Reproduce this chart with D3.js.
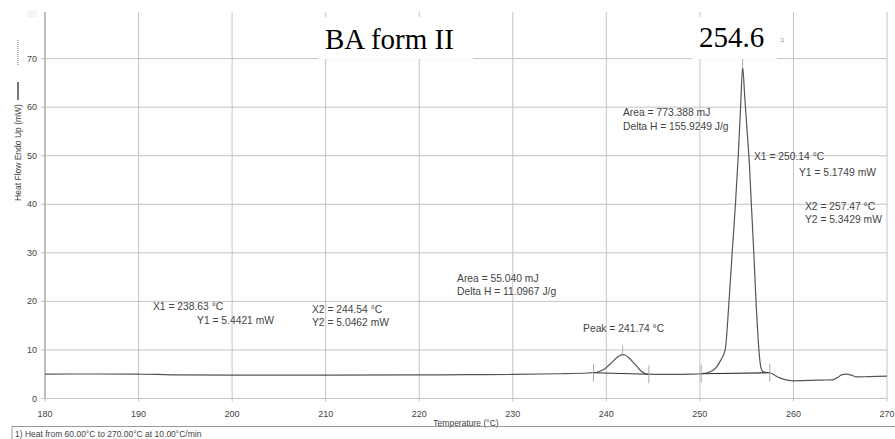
<!DOCTYPE html>
<html>
<head>
<meta charset="utf-8">
<script src="https://cdn.jsdelivr.net/npm/d3@7"></script>
<style>
  html, body { margin: 0; padding: 0; background: #fff; }
  svg { display: block; font-family: "Liberation Sans", Arial, sans-serif; }
  .serif { font-family: "Liberation Serif", "Times New Roman", serif; }
</style>
</head>
<body>
<svg id="chart" width="895" height="439"></svg>
<script>
// ---- data ----
const temperature = [180, 185, 190, 192, 194, 200, 210, 220, 225, 230, 235, 238, 238.63,
  239.3, 239.8, 240.3, 240.7, 241.1, 241.5, 241.74, 242.0, 242.4, 242.9, 243.4, 243.8, 244.2, 244.54,
  245.5, 247, 249, 250.14, 250.8, 251.4, 251.8, 252.2, 252.7, 253.1, 253.45, 253.8, 254.1, 254.35, 254.57,
  254.8, 255.05, 255.3, 255.5, 255.75, 256.0, 256.2, 256.35, 256.5, 256.7, 257.0, 257.47,
  258.0, 258.5, 259.0, 259.5, 260, 261, 262, 263, 264.2, 264.7, 265.2, 265.7, 266.2, 266.8, 268, 270];
const heatFlow = [5.0, 5.05, 5.0, 4.95, 4.85, 4.8, 4.8, 4.85, 4.9, 4.95, 5.1, 5.25, 5.3,
  5.6, 6.1, 6.9, 7.6, 8.4, 8.9, 9.05, 8.95, 8.4, 7.4, 6.3, 5.5, 5.1, 5.0,
  4.95, 4.95, 5.0, 5.1, 5.3, 5.8, 6.5, 7.8, 10.0, 19.6, 30.0, 40.0, 50.0, 60.0, 68.2,
  62.0, 55.0, 48.0, 40.0, 30.5, 20.0, 13.0, 9.0, 6.6, 5.6, 5.4, 5.3,
  4.8, 4.3, 3.95, 3.75, 3.65, 3.7, 3.75, 3.8, 3.85, 4.3, 4.9, 5.0, 4.8, 4.45, 4.5, 4.6];

const xTicks = [180, 190, 200, 210, 220, 230, 240, 250, 260, 270];
const yTicks = [0, 10, 20, 30, 40, 50, 60, 70];

// integration limits (temperature, heat flow)
const limitTemps  = [238.63, 244.54, 250.14, 257.47];
const limitValues = [5.3, 5.0, 5.1, 5.3];
const peakTemps   = [241.74, 254.57];
const peakValues  = [9.05, 68.2];

// annotation texts and anchors (temperature, heat flow)
const annoTexts = ["Area = 773.388 mJ", "Delta H = 155.9249 J/g", "X1 = 250.14 °C", "Y1 = 5.1749 mW",
  "X2 = 257.47 °C", "Y2 = 5.3429 mW", "Area = 55.040 mJ", "Delta H = 11.0967 J/g",
  "X1 = 238.63 °C", "Y1 = 5.4421 mW", "X2 = 244.54 °C", "Y2 = 5.0462 mW", "Peak = 241.74 °C"];
const annoT = [241.78, 241.78, 255.78, 260.59, 261.23, 261.23, 224.04, 224.04, 191.54, 196.25, 208.54, 208.54, 237.51];
const annoV = [58.21, 55.33, 49.15, 45.85, 38.85, 36.17, 24.01, 21.33, 18.24, 15.36, 17.51, 14.94, 13.70];

const titleText = "BA form II";
const peakLabel = "254.6";
const xTitle = "Temperature (°C)";
const yTitle = "Heat Flow Endo Up (mW)";
const footer = "1) Heat from 60.00°C to 270.00°C at 10.00°C/min";

// ---- layout ----
const svg = d3.select("#chart");
const x = d3.scaleLinear().domain([180, 270]).range([45, 887]);
const y = d3.scaleLinear().domain([0, 79.6]).range([398.5, 12]);
const gridColor = "#c4c4c4";
const textColor = "#444";

// gridlines
svg.append("g").selectAll("line").data(xTicks).join("line")
  .attr("x1", d => x(d)).attr("x2", d => x(d))
  .attr("y1", y.range()[1]).attr("y2", y(0) + 3)
  .attr("stroke", gridColor).attr("stroke-width", 1);
svg.append("g").selectAll("line").data(yTicks).join("line")
  .attr("x1", x(180) - 4).attr("x2", x(270))
  .attr("y1", d => y(d)).attr("y2", d => y(d))
  .attr("stroke", gridColor).attr("stroke-width", 1);
// axis line
svg.append("line").attr("x1", x(180)).attr("x2", x(180)).attr("y1", y.range()[1]).attr("y2", y(0))
  .attr("stroke", "#999").attr("stroke-width", 1);

// tick labels
svg.append("g").selectAll("text").data(xTicks).join("text")
  .attr("x", d => x(d)).attr("y", 416.5).attr("text-anchor", "middle")
  .attr("font-size", 9).attr("fill", textColor).text(d => d);
svg.append("g").selectAll("text").data(yTicks).join("text")
  .attr("x", 37).attr("y", d => y(d) + 3).attr("text-anchor", "end")
  .attr("font-size", 9).attr("fill", textColor).text(d => d);
svg.append("text").attr("x", 37).attr("y", y.range()[1] + 5).attr("text-anchor", "end")
  .attr("font-size", 9).attr("fill", "#e8e8e8").text("80");

// axis titles
svg.append("text").attr("x", 466).attr("y", 426).attr("text-anchor", "middle")
  .attr("font-size", 8.5).attr("fill", textColor).text(xTitle);
svg.append("text").attr("transform", "translate(21,152.5) rotate(-90)").attr("text-anchor", "middle")
  .attr("font-size", 8.5).attr("fill", textColor).text(yTitle);
// legend line swatch
svg.append("line").attr("x1", 18).attr("x2", 18).attr("y1", 82).attr("y2", 100)
  .attr("stroke", "#555").attr("stroke-width", 1.6);
svg.append("line").attr("x1", 18).attr("x2", 18).attr("y1", 40).attr("y2", 65)
  .attr("stroke", "#777").attr("stroke-width", 1).attr("stroke-dasharray", "1,1");

// footer
svg.append("path").attr("d", "M12,439 V426.5 H895").attr("fill", "none")
  .attr("stroke", "#999").attr("stroke-width", 1);
svg.append("text").attr("x", 15).attr("y", 437).attr("font-size", 8.5).attr("fill", textColor).text(footer);

// curve
const pts = temperature.map((t, i) => [t, heatFlow[i]]);
svg.append("path").datum(pts)
  .attr("d", d3.line().x(d => x(d[0])).y(d => y(d[1])).curve(d3.curveMonotoneX))
  .attr("fill", "none").attr("stroke", "#555").attr("stroke-width", 1.2);

// integration baselines
[[0, 1], [2, 3]].forEach(([a, b]) => {
  svg.append("line")
    .attr("x1", x(limitTemps[a])).attr("y1", y(limitValues[a]))
    .attr("x2", x(limitTemps[b])).attr("y2", y(limitValues[b]))
    .attr("stroke", "#333").attr("stroke-width", 1.1);
});
// limit ticks
svg.append("g").selectAll("line").data(limitTemps).join("line")
  .attr("x1", d => x(d)).attr("x2", d => x(d))
  .attr("y1", (d, i) => y(limitValues[i]) - 9).attr("y2", (d, i) => y(limitValues[i]) + 9)
  .attr("stroke", "#aaa").attr("stroke-width", 1);
// peak ticks
svg.append("g").selectAll("line").data(peakTemps).join("line")
  .attr("x1", d => x(d)).attr("x2", d => x(d))
  .attr("y1", (d, i) => y(peakValues[i]) - 9).attr("y2", (d, i) => y(peakValues[i]) - 1)
  .attr("stroke", "#aaa").attr("stroke-width", 1);

// annotations
svg.append("g").selectAll("text").data(annoTexts).join("text")
  .attr("x", (d, i) => x(annoT[i])).attr("y", (d, i) => y(annoV[i]))
  .attr("font-size", 10.3).attr("fill", textColor).text(d => d);

// pasted title labels on white boxes
svg.append("rect").attr("x", 318).attr("y", 17).attr("width", 155).attr("height", 42).attr("fill", "#fff");
svg.append("text").attr("class", "serif").attr("x", 325).attr("y", 48.5)
  .attr("font-size", 29).attr("fill", "#000").text(titleText);
svg.append("rect").attr("x", 692).attr("y", 17).attr("width", 85).attr("height", 42).attr("fill", "#fff");
svg.append("text").attr("class", "serif").attr("x", 699).attr("y", 47)
  .attr("font-size", 29).attr("fill", "#000").text(peakLabel);
svg.append("text").attr("x", 780).attr("y", 42).attr("font-size", 8).attr("fill", "#999").text("ɔ");
</script>
</body>
</html>
